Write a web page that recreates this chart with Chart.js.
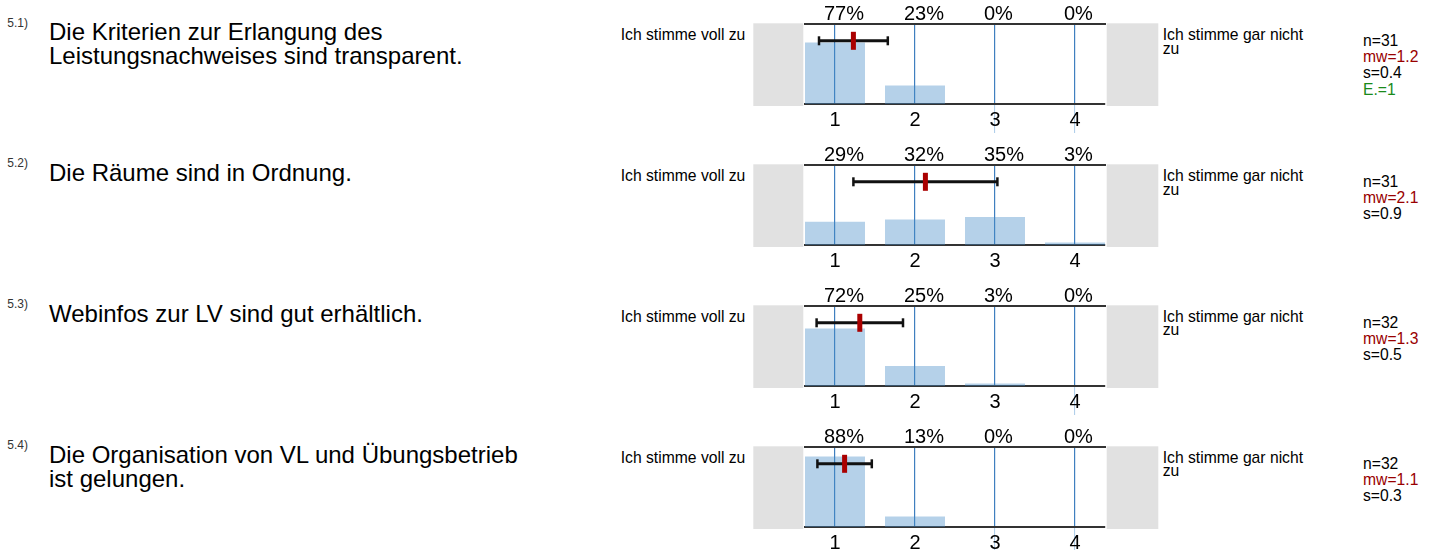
<!DOCTYPE html>
<html lang="de">
<head>
<meta charset="utf-8">
<title>Auswertung 5.x</title>
<script src="https://cdn.jsdelivr.net/npm/chart.js@4/dist/chart.umd.min.js"></script>
<style>
  html, body { margin: 0; padding: 0; background: #fff; }
  body { width: 1436px; height: 550px; position: relative; overflow: hidden;
         font-family: "Liberation Sans", Arial, sans-serif; color: #000; }
  .abs { position: absolute; }
  .qnum { font-size: 12px; line-height: 14px; color: #333; }
  .qtxt { font-size: 24px; line-height: 24px; width: 485px; }
  .lbl  { font-size: 15.7px; line-height: 14px; white-space: nowrap; }
  .rlbl { font-size: 15.7px; line-height: 13.3px; width: 155px; }
  .stat { font-size: 15.7px; line-height: 16.3px; }
  .mw   { color: #990000; }
  .abst { color: #1a8a1a; }
  canvas { position: absolute; }
</style>
</head>
<body>
<script>
/* Daten: Fragen 5.1 – 5.4, Skala 1..4 */
const Q_NUMS    = ['5.1)', '5.2)', '5.3)', '5.4)'];
const QUESTIONS = [
  'Die Kriterien zur Erlangung des Leistungsnachweises sind transparent.',
  'Die Räume sind in Ordnung.',
  'Webinfos zur LV sind gut erhältlich.',
  'Die Organisation von VL und Übungsbetrieb ist gelungen.'
];
const LEFT_POLE  = 'Ich stimme voll zu';
const RIGHT_POLE = 'Ich stimme gar nicht zu';

const CATEGORIES  = [1, 2, 3, 4];
const TICK_LABELS = ['1', '2', '3', '4'];

/* Anteile je Antwort in % */
const PCT_51 = [77, 23, 0, 0];
const PCT_52 = [29, 32, 35, 3];
const PCT_53 = [72, 25, 3, 0];
const PCT_54 = [88, 13, 0, 0];
const PERCENTS = [PCT_51, PCT_52, PCT_53, PCT_54];

/* Kennwerte */
const N_VALUES = [31, 31, 32, 32];
const MEANS    = [1.23, 2.13, 1.31, 1.12];
const STDDEVS  = [0.43, 0.90, 0.54, 0.34];
const ABSTAIN  = [1, null, null, null];   // E. = Enthaltungen

/* ── Layout ─────────────────────────────────────────────── */
const ROW_TOP  = 24;      // oberer Rahmen der ersten Zeile
const ROW_STEP = 140.9;
const ERR_Y    = 79;      // Höhe des Fehlerbalkens im Diagramm (0..100)
const FONT     = '"Liberation Sans", Arial, sans-serif';

Chart.defaults.font.family = FONT;
Chart.defaults.color = '#000';

/* graue Kästen links/rechts neben dem Diagramm */
const sideBoxes = {
  id: 'sideBoxes',
  beforeDraw(chart) {
    const { ctx, chartArea: a } = chart;
    ctx.save();
    ctx.fillStyle = '#e1e1e1';
    ctx.fillRect(a.left - 51.7, a.top - 0.7, 50, a.bottom - a.top + 2.7);
    ctx.fillRect(a.right + 1.7, a.top - 0.7, 51.6, a.bottom - a.top + 2.7);
    ctx.restore();
  }
};

function addDiv(cls, x, y, html) {
  const d = document.createElement('div');
  d.className = 'abs ' + cls;
  d.style.left = x + 'px';
  d.style.top = y + 'px';
  d.innerHTML = html;
  document.body.appendChild(d);
  return d;
}

function fixTicks(scale) {
  scale.ticks = CATEGORIES.map(v => ({ value: v }));
}

function drawRow(i) {
  const top = ROW_TOP + ROW_STEP * i;
  const pct = PERCENTS[i];

  /* Texte */
  addDiv('qnum', 7.3, top - 8.5, Q_NUMS[i]);
  addDiv('qtxt', 49, top - 3.6, QUESTIONS[i]);
  addDiv('lbl', 620.7, top + 4.3, LEFT_POLE);
  addDiv('rlbl', 1162.7, top + 4.4, RIGHT_POLE);
  let stats = `n=${N_VALUES[i]}<br><span class="mw">mw=${MEANS[i].toFixed(1)}</span><br>s=${STDDEVS[i].toFixed(1)}`;
  if (ABSTAIN[i] != null) stats += `<br><span class="abst">E.=${ABSTAIN[i]}</span>`;
  addDiv('stat', 1363, top + 8.9, stats);

  /* Diagramm */
  const cv = document.createElement('canvas');
  cv.width = 440; cv.height = 140;
  cv.style.left = '740px';
  cv.style.top = (top - 24) + 'px';
  document.body.appendChild(cv);

  const m = MEANS[i], s = STDDEVS[i];
  new Chart(cv.getContext('2d'), {
    type: 'bar',
    data: {
      datasets: [
        {
          type: 'line',
          data: [{ x: m, y: ERR_Y }],
          showLine: false,
          pointStyle: 'line',
          rotation: 90,
          pointRadius: 9,
          pointBorderWidth: 5,
          pointBorderColor: '#aa0000',
          pointBackgroundColor: '#aa0000',
          order: 0
        },
        {
          type: 'line',
          data: [{ x: m - s, y: ERR_Y }, { x: m + s, y: ERR_Y }],
          borderColor: '#111',
          borderWidth: 3,
          pointStyle: 'line',
          rotation: 90,
          pointRadius: 4.5,
          pointBorderWidth: 2.5,
          pointBorderColor: '#111',
          pointBackgroundColor: '#111',
          order: 1
        },
        {
          data: CATEGORIES.map((c, k) => ({ x: c, y: pct[k] })),
          backgroundColor: 'rgba(70,140,200,0.4)',
          borderWidth: 0,
          barPercentage: 0.75,
          categoryPercentage: 1,
          order: 2
        }
      ]
    },
    options: {
      responsive: false,
      animation: false,
      layout: { padding: { left: 65, right: 75, top: 0, bottom: 0 } },
      plugins: { legend: { display: false }, tooltip: { enabled: false } },
      scales: {
        x: {
          type: 'linear', position: 'bottom', min: 0.625, max: 4.375,
          offset: false,
          afterBuildTicks: fixTicks,
          afterFit: sc => { sc.height = 36; },
          ticks: {
            autoSkip: false, maxRotation: 0, padding: -25,
            font: { size: 20 }, color: '#000',
            callback: (v, k) => TICK_LABELS[k]
          },
          grid: {
            offset: false,
            color: '#3f7fbf', lineWidth: 1.2,
            tickLength: 29, tickWidth: 1,
            tickColor: c => pct[c.index] === 0 ? '#a9cbe8' : 'rgba(0,0,0,0)'
          },
          border: { color: '#333', width: 2 }
        },
        x2: {
          type: 'linear', position: 'top', min: 0.625, max: 4.375,
          offset: false,
          afterBuildTicks: fixTicks,
          afterFit: sc => { sc.height = 24; },
          ticks: {
            autoSkip: false, maxRotation: 0, padding: -2.5,
            align: 'start', labelOffset: -11,
            font: { size: 20 }, color: '#000',
            callback: (v, k) => pct[k] + '%'
          },
          grid: { offset: false, drawOnChartArea: false, drawTicks: false },
          border: { color: '#333', width: 2 }
        },
        y: { display: false, min: 0, max: 100 }
      }
    },
    plugins: [sideBoxes]
  });
}

QUESTIONS.forEach((q, i) => drawRow(i));
</script>
</body>
</html>
